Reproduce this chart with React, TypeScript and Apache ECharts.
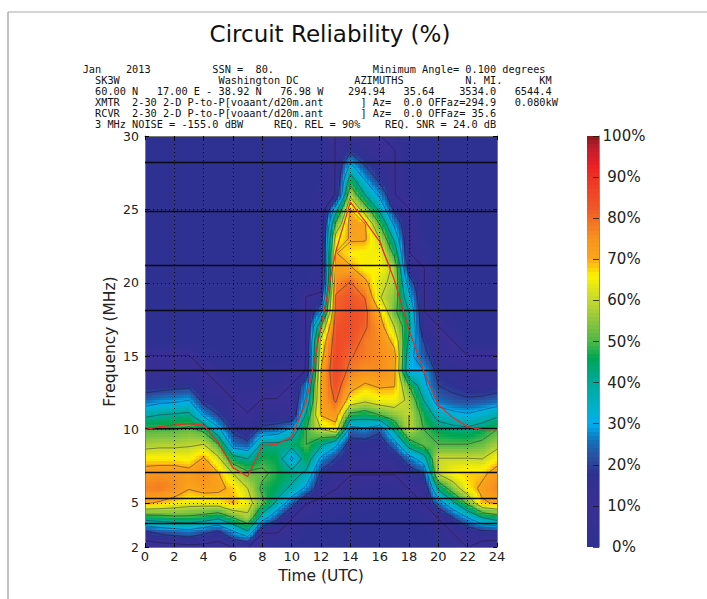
import React, { useEffect, useRef } from "react";
import * as echarts from "echarts";

const FONT = '"DejaVu Sans"';
const MONO = '"DejaVu Sans Mono"';

const title = "Circuit Reliability (%)";
const headerLines = [
  "Jan    2013          SSN =  80.                Minimum Angle= 0.100 degrees",
  "  SK3W                Washington DC         AZIMUTHS          N. MI.      KM",
  "  60.00 N   17.00 E - 38.92 N   76.98 W    294.94   35.64    3534.0   6544.4",
  "  XMTR  2-30 2-D P-to-P[voaant/d20m.ant      ] Az=  0.0 OFFaz=294.9   0.080kW",
  "  RCVR  2-30 2-D P-to-P[voaant/d20m.ant      ] Az=  0.0 OFFaz= 35.6",
  "  3 MHz NOISE = -155.0 dBW     REQ. REL = 90%    REQ. SNR = 24.0 dB",
];
const headerY = [69, 80, 91, 102, 112.8, 123.5];

const freqTicks = [2, 5, 10, 15, 20, 25, 30];
const bandFrequencies = [3.6, 5.3, 7.1, 10.1, 14.05, 18.1, 21.2, 24.9, 28.2];

const hours = [0, 1, 2, 3, 4, 5, 6, 7, 8, 9, 10, 11, 12, 13, 14, 15, 16, 17, 18, 19, 20, 21, 22, 23, 24];
const freqs = [2, 3, 4, 5, 6, 7, 8, 9, 10, 11, 12, 13, 14, 15, 16, 17, 18, 19, 20, 21, 22, 23, 24, 25, 26, 27, 28, 29, 30];

// MUF curve (red), one value per hour
const mufByHour = [10, 10.2, 10.3, 10.4, 10.3, 9.1, 7.4, 6.8, 8.9, 9, 9.5, 11.9, 17, 22.1, 25.5, 24.2, 22.8, 20.2, 16.8, 14, 11.7, 10.8, 10.2, 10, 10];

// reliability (%) per hour, one value per frequency from 2 to 30 MHz
const h00 = [4, 18, 45, 71, 77, 74, 66, 57, 50, 38, 24, 16, 12, 10.5, 0, 0, 0, 0, 0, 0, 0, 0, 0, 0, 0, 0, 0, 0, 0];
const h01 = [5, 22, 46, 69, 78, 75, 66, 58, 50, 40, 27, 16, 12, 10.5, 0, 0, 0, 0, 0, 0, 0, 0, 0, 0, 0, 0, 0, 0, 0];
const h02 = [6, 24, 48, 66, 76, 75, 66, 58, 50, 41, 28, 17, 12, 10.5, 0, 0, 0, 0, 0, 0, 0, 0, 0, 0, 0, 0, 0, 0, 0];
const h03 = [7, 26, 48, 64, 70.5, 73, 65, 59, 52, 42, 30, 18, 13, 10.5, 0, 0, 0, 0, 0, 0, 0, 0, 0, 0, 0, 0, 0, 0, 0];
const h04 = [7, 22, 46, 64, 73, 76, 71, 60, 48, 28, 17, 12, 10.3, 4, 0, 0, 0, 0, 0, 0, 0, 0, 0, 0, 0, 0, 0, 0, 0];
const h05 = [5, 18, 42, 65, 72, 70.5, 62, 50, 32, 20, 15, 10.5, 5, 2, 0, 0, 0, 0, 0, 0, 0, 0, 0, 0, 0, 0, 0, 0, 0];
const h06 = [10.5, 28, 50, 70.3, 68, 60, 45, 25, 18, 12, 10.3, 5, 2, 0, 0, 0, 0, 0, 0, 0, 0, 0, 0, 0, 0, 0, 0, 0, 0];
const h07 = [10.5, 38, 58, 64, 60, 52, 40, 22, 14, 10.5, 7, 3, 1, 0, 0, 0, 0, 0, 0, 0, 0, 0, 0, 0, 0, 0, 0, 0, 0];
const h08 = [4, 10.5, 35, 52, 48, 52, 47, 42, 22, 14, 10.5, 5, 2, 0, 0, 0, 0, 0, 0, 0, 0, 0, 0, 0, 0, 0, 0, 0, 0];
const h09 = [0, 10.5, 22, 38, 45, 47, 46, 42, 24, 14, 10.5, 6, 2, 0, 0, 0, 0, 0, 0, 0, 0, 0, 0, 0, 0, 0, 0, 0, 0];
const h10 = [0, 6, 10.5, 24, 38, 44, 28, 44, 32, 10.5, 10.5, 10.5, 5, 0, 0, 0, 0, 0, 0, 0, 0, 0, 0, 0, 0, 0, 0, 0, 0];
const h11 = [0, 0, 4, 10.5, 28, 38, 46, 50, 50, 42, 32, 26, 10.5, 10.5, 10.5, 10.5, 10.5, 10.5, 2, 0, 0, 0, 0, 0, 0, 0, 0, 0, 0];
const h12 = [0, 0, 3, 8, 14, 18, 28, 42, 60, 70.5, 71, 71.5, 70.8, 67, 63, 50, 28, 13, 5, 3, 3, 3, 3, 3, 3, 1, 0, 0, 0];
const h13 = [0, 0, 1, 4, 10.5, 13, 20, 32, 66, 74, 81, 84, 86, 86, 85, 84, 81, 81, 76, 72, 70.5, 64, 52, 35, 10.5, 10.5, 10.5, 10.5, 10.5];
const h14 = [0, 0, 0, 3, 6, 10.5, 13, 16, 25, 48, 66, 73, 78, 80.5, 84, 85, 85, 83, 80.5, 71, 66, 71, 73, 70, 58, 45, 32, 18, 10.5];
const h15 = [0, 0, 0, 3, 5, 10.5, 13, 16, 28, 45, 62, 69, 75, 78, 78, 81, 82, 79.8, 72, 65, 65, 71, 70.5, 55, 40, 30, 20, 13, 12];
const h16 = [0, 0, 0, 2, 5, 10.5, 13, 15, 22, 50, 65, 71, 76, 76, 76, 74, 70, 60.5, 62, 66, 65, 60, 50, 38, 28, 18, 15, 11, 10.5];
const h17 = [0, 0, 0, 1, 4, 10.5, 14, 25, 42, 55, 65, 70.5, 72, 73, 68, 60, 52, 55, 58, 58, 48, 38, 28, 18, 10.5, 10.5, 10.5, 10.5, 4];
const h18 = [0, 0, 0, 3, 10.5, 15, 25, 45, 60, 60, 58, 50, 30, 33, 38, 42, 40, 33, 25, 14, 10.5, 10.5, 10.5, 10.5, 4, 1, 0, 0, 0];
const h19 = [0, 0, 3, 10.5, 12, 20, 35, 52, 50, 47, 40, 33, 30, 23, 20, 13, 10.5, 10.5, 10.5, 10.5, 3, 1, 0, 0, 0, 0, 0, 0, 0];
const h20 = [0, 3, 10.5, 25, 42, 60.5, 60.5, 50, 45, 36, 25, 20, 17, 14, 12, 10.5, 3, 0, 0, 0, 0, 0, 0, 0, 0, 0, 0, 0, 0];
const h21 = [3, 10.5, 20, 38, 55, 66, 60.5, 50, 43, 33, 22, 18, 15, 10.5, 10.5, 2, 0, 0, 0, 0, 0, 0, 0, 0, 0, 0, 0, 0, 0];
const h22 = [10.5, 14, 30, 52, 66, 68, 60.5, 50, 42, 31, 21, 16, 13, 10.5, 0, 0, 0, 0, 0, 0, 0, 0, 0, 0, 0, 0, 0, 0, 0];
const h23 = [5, 17, 40, 69, 72, 68, 60, 52, 45, 34, 22, 15, 12, 10.5, 0, 0, 0, 0, 0, 0, 0, 0, 0, 0, 0, 0, 0, 0, 0];
const h24 = [4, 18, 45, 71, 77, 74, 66, 57, 50, 38, 24, 16, 12, 10.5, 0, 0, 0, 0, 0, 0, 0, 0, 0, 0, 0, 0, 0, 0, 0];
const reliability = [h00, h01, h02, h03, h04, h05, h06, h07, h08, h09, h10, h11, h12, h13, h14, h15, h16, h17, h18, h19, h20, h21, h22, h23, h24];

const contourLevels = [10, 20, 30, 40, 50, 60, 70, 80, 90];

const colorStopLevels = [0, 10, 18, 22, 26, 30, 33, 40, 46, 50, 55, 60, 66, 70, 75, 82, 90, 93, 97, 100];
const colorStopHex = ["#2e3192", "#3a2f94", "#2e3192", "#2a4fa0", "#0f75bc", "#00aeef", "#00b0d0", "#00a99d", "#00a651", "#4cb848", "#8dc63f", "#c4d82e", "#fff200", "#faa61a", "#f7941d", "#f15a29", "#ed3224", "#ed1c24", "#be1e2d", "#8b1a1a"];

const stopRgb = colorStopHex.map((h) => [parseInt(h.slice(1, 3), 16), parseInt(h.slice(3, 5), 16), parseInt(h.slice(5, 7), 16)]);
function colorOf(v: number): string {
  let k = 0;
  while (k < colorStopLevels.length - 2 && v > colorStopLevels[k + 1]) k++;
  const t = Math.max(0, Math.min(1, (v - colorStopLevels[k]) / (colorStopLevels[k + 1] - colorStopLevels[k])));
  const a = stopRgb[k];
  const b = stopRgb[k + 1];
  return `rgb(${Math.round(a[0] + (b[0] - a[0]) * t)},${Math.round(a[1] + (b[1] - a[1]) * t)},${Math.round(a[2] + (b[2] - a[2]) * t)})`;
}

const SUB = 6;
function renderCell(_p: any, api: any) {
  const i = api.value(0);
  const j = api.value(1);
  const v00 = reliability[i][j];
  const v10 = reliability[i + 1][j];
  const v01 = reliability[i][j + 1];
  const v11 = reliability[i + 1][j + 1];
  const p0 = api.coord([hours[i], freqs[j]]);
  const p1 = api.coord([hours[i + 1], freqs[j + 1]]);
  const children: any[] = [];
  const flat = Math.max(v00, v10, v01, v11) - Math.min(v00, v10, v01, v11) < 0.5;
  const n = flat ? 1 : SUB;
  for (let a = 0; a < n; a++) {
    for (let b = 0; b < n; b++) {
      const u = (a + 0.5) / n;
      const w = (b + 0.5) / n;
      const v = (v00 * (1 - u) + v10 * u) * (1 - w) + (v01 * (1 - u) + v11 * u) * w;
      const x0 = Math.round(p0[0] + ((p1[0] - p0[0]) * a) / n);
      const x1 = Math.round(p0[0] + ((p1[0] - p0[0]) * (a + 1)) / n);
      const y0 = Math.round(p0[1] + ((p1[1] - p0[1]) * b) / n);
      const y1 = Math.round(p0[1] + ((p1[1] - p0[1]) * (b + 1)) / n);
      children.push({
        type: "rect",
        silent: true,
        shape: { x: x0, y: Math.min(y0, y1), width: x1 - x0, height: Math.abs(y1 - y0) },
        style: { fill: colorOf(v) },
      });
    }
  }
  return { type: "group", children };
}

function renderContour(_p: any, api: any) {
  const level = api.value(2);
  const children: any[] = [];
  for (let i = 0; i < hours.length - 1; i++) {
    for (let j = 0; j < freqs.length - 1; j++) {
      const c = [
        [hours[i], freqs[j], reliability[i][j]],
        [hours[i + 1], freqs[j], reliability[i + 1][j]],
        [hours[i + 1], freqs[j + 1], reliability[i + 1][j + 1]],
        [hours[i], freqs[j + 1], reliability[i][j + 1]],
      ];
      const pts: number[][] = [];
      for (let e = 0; e < 4; e++) {
        const p = c[e];
        const q = c[(e + 1) % 4];
        if (p[2] >= level !== q[2] >= level) {
          const t = (level - p[2]) / (q[2] - p[2]);
          pts.push(api.coord([p[0] + (q[0] - p[0]) * t, p[1] + (q[1] - p[1]) * t]));
        }
      }
      for (let k = 0; k + 1 < pts.length; k += 2) {
        children.push({
          type: "line",
          silent: true,
          shape: { x1: pts[k][0], y1: pts[k][1], x2: pts[k + 1][0], y2: pts[k + 1][1] },
          style: { stroke: "rgba(20,20,40,0.6)", lineWidth: 0.7 },
        });
      }
    }
  }
  return { type: "group", children };
}

function renderColorbar(_p: any, api: any) {
  const v = api.value(1);
  const p0 = api.coord([0, v]);
  const p1 = api.coord([1, v + 1]);
  return {
    type: "rect",
    silent: true,
    shape: { x: p0[0], y: Math.round(p1[1]), width: p1[0] - p0[0], height: Math.round(p0[1]) - Math.round(p1[1]) },
    style: { fill: colorOf(v + 0.5) },
  };
}

export default function App() {
  const ref = useRef<HTMLDivElement>(null);
  useEffect(() => {
    const chart = echarts.init(ref.current!, undefined, { renderer: "svg" });
    const cells: number[][] = [];
    for (let i = 0; i < hours.length - 1; i++) for (let j = 0; j < freqs.length - 1; j++) cells.push([i, j]);
    const barLevels: number[][] = [];
    for (let l = 0; l < 100; l++) barLevels.push([0, l]);
    const axisGrey = "#7a7a7a";
    const labelColor = "#222";
    chart.setOption({
      animation: false,
      backgroundColor: "#fff",
      title: {
        text: title,
        left: 325,
        top: 17,
        textAlign: "center",
        textStyle: { fontFamily: FONT, fontSize: 23, fontWeight: "normal", color: "#111" },
      },
      grid: [
        { left: 145, top: 136, width: 352, height: 411 },
        { left: 587, top: 136, width: 12, height: 411 },
      ],
      xAxis: [
        {
          type: "value", gridIndex: 0, min: 0, max: 24, interval: 2, position: "bottom", z: 4,
          name: "Time (UTC)", nameLocation: "middle", nameGap: 18,
          nameTextStyle: { fontFamily: FONT, fontSize: 15.5, color: labelColor },
          axisLine: { show: true, onZero: false, lineStyle: { color: axisGrey, width: 1 } },
          axisTick: { show: true, inside: true, length: 4, lineStyle: { color: "#000" } },
          axisLabel: { fontFamily: FONT, fontSize: 13, color: labelColor, margin: 3, formatter: (v: number) => String(v) },
          splitLine: { show: true, lineStyle: { color: "rgba(0,0,0,0.8)", type: [1, 3], width: 1 } },
        },
        {
          type: "value", gridIndex: 0, min: 0, max: 24, interval: 2, position: "top", z: 4,
          axisLine: { show: true, onZero: false, lineStyle: { color: axisGrey, width: 1 } },
          axisTick: { show: true, inside: true, length: 4, lineStyle: { color: "#000" } },
          axisLabel: { show: false },
          splitLine: { show: false },
        },
        { type: "value", gridIndex: 1, min: 0, max: 1, show: false, splitLine: { show: false } },
      ],
      yAxis: [
        {
          type: "value", gridIndex: 0, min: 2, max: 30, position: "left", z: 4,
          name: "Frequency (MHz)", nameLocation: "middle", nameGap: 27,
          nameTextStyle: { fontFamily: FONT, fontSize: 15.5, color: labelColor },
          axisLine: { show: true, onZero: false, lineStyle: { color: axisGrey, width: 1 } },
          axisTick: { show: true, inside: true, length: 4, customValues: freqTicks, lineStyle: { color: "#000" } },
          axisLabel: { fontFamily: FONT, fontSize: 12.5, color: labelColor, margin: 6, customValues: freqTicks },
          splitLine: { show: true, lineStyle: { color: "rgba(0,0,0,0.8)", type: [1, 3], width: 1 } },
        },
        {
          type: "value", gridIndex: 0, min: 2, max: 30, position: "right", z: 4,
          axisLine: { show: true, onZero: false, lineStyle: { color: axisGrey, width: 1 } },
          axisTick: { show: true, inside: true, length: 4, customValues: freqTicks, lineStyle: { color: "#000" } },
          axisLabel: { show: false, customValues: freqTicks },
          splitLine: { show: false },
        },
        {
          type: "value", gridIndex: 1, min: 0, max: 100, interval: 10, position: "right", z: 4,
          axisLine: { show: true, onZero: false, lineStyle: { color: "#8c8c8c", width: 1 } },
          axisTick: { show: true, inside: true, length: 6, lineStyle: { color: "rgba(20,20,20,0.75)" } },
          axisLabel: { fontFamily: FONT, fontSize: 15, color: labelColor, margin: 25, align: "center", formatter: "{value}%" },
          splitLine: { show: false },
        },
      ],
      series: [
        {
          type: "custom", xAxisIndex: 0, yAxisIndex: 0, z: 1, silent: true,
          renderItem: renderCell, data: cells, encode: { x: 0, y: 1 }, clip: true,
        },
        {
          type: "custom", xAxisIndex: 0, yAxisIndex: 0, z: 2, silent: true,
          renderItem: renderContour,
          data: contourLevels.map((l) => [0, 2, l]), encode: { x: 0, y: 1 },
        },
        {
          type: "custom", xAxisIndex: 2, yAxisIndex: 2, z: 1, silent: true,
          renderItem: renderColorbar, data: barLevels, encode: { x: 0, y: 1 },
        },
        {
          type: "line", xAxisIndex: 0, yAxisIndex: 0, z: 6, silent: true, symbol: "none",
          data: hours.map((h, i) => [h, mufByHour[i]]),
          lineStyle: { color: "#ee2a24", width: 1.2 },
          markLine: {
            silent: true, symbol: "none", animation: false, z: 5,
            label: { show: false },
            lineStyle: { color: "#0a0a14", width: 1.3, type: "solid" },
            data: bandFrequencies.map((f) => ({ yAxis: f })),
          },
        },
      ],
      graphic: [
        { type: "line", silent: true, shape: { x1: 8, y1: 12, x2: 707, y2: 12 }, style: { stroke: "#aaa", lineWidth: 1.2 } },
        { type: "line", silent: true, shape: { x1: 8, y1: 12, x2: 8, y2: 599 }, style: { stroke: "#999", lineWidth: 1.2 } },
        ...headerLines.map((t, i) => ({
          type: "text", silent: true, x: 82.7, y: headerY[i],
          style: { text: t, font: `10.25px ${MONO}`, fill: "#111", verticalAlign: "middle" },
        })),
      ],
    });
    return () => chart.dispose();
  }, []);
  return <div ref={ref} style={{ position: "absolute", left: 0, top: 0, width: 707, height: 599 }} />;
}
